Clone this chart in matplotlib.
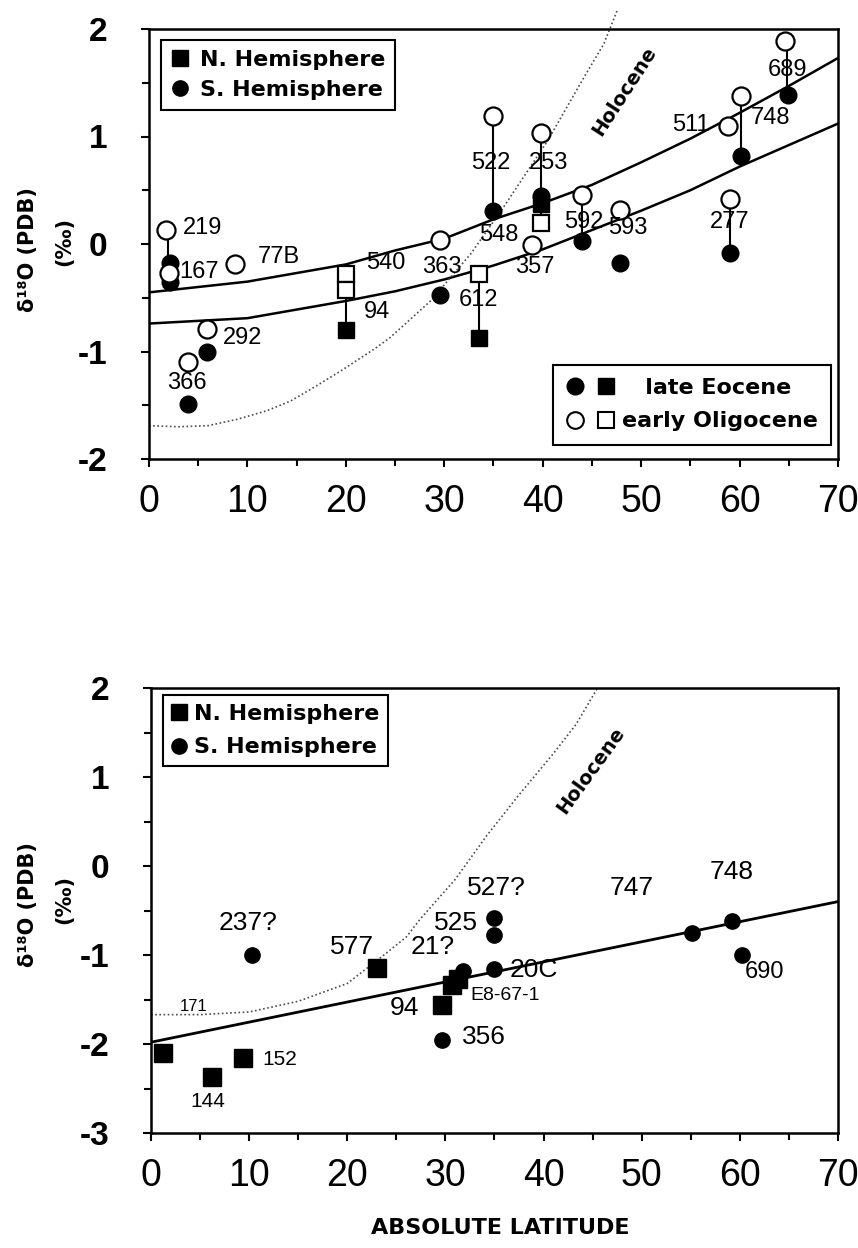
import matplotlib
matplotlib.use("Agg")
import matplotlib.pyplot as plt
from matplotlib.lines import Line2D
from matplotlib.legend_handler import HandlerTuple
from matplotlib.ticker import MultipleLocator

plt.rcParams['font.family'] = ['Liberation Sans', 'DejaVu Sans']
plt.rcParams['axes.unicode_minus'] = False

# ---- top panel: late Eocene / early Oligocene ----
# regression curves
fit_x = [0, 10, 20, 25, 30, 35, 40, 45, 50, 55, 60, 65, 70]
fit_upper = [-0.45, -0.35, -0.19, -0.06, 0.05, 0.23, 0.38, 0.55, 0.76, 0.98, 1.22, 1.47, 1.73]
fit_lower = [-0.74, -0.69, -0.53, -0.44, -0.33, -0.2, -0.05, 0.13, 0.31, 0.5, 0.72, 0.92, 1.12]
holo_top_x = [0, 3, 6, 9, 12, 14.4, 17, 19.5, 23, 24.5, 28.6, 32.7, 36, 40.5, 44, 46.2, 47.6]
holo_top_y = [-1.69, -1.7, -1.69, -1.63, -1.55, -1.46, -1.32, -1.18, -0.97, -0.87, -0.53, -0.09, 0.34, 0.96, 1.52, 1.86, 2.18]

# S. hemisphere circles
oli_circ_x = [1.7, 2.0, 8.7, 5.9, 4.0, 29.6, 34.9, 39.8, 38.9, 44.0, 47.9, 58.8, 60.1, 64.6, 59.0]
oli_circ_y = [0.13, -0.27, -0.19, -0.79, -1.1, 0.04, 1.19, 1.03, -0.01, 0.46, 0.32, 1.1, 1.38, 1.89, 0.42]
eoc_circ_x = [2.1, 2.1, 5.9, 4.0, 29.6, 34.9, 39.8, 44.0, 47.9, 60.1, 64.9, 59.0]
eoc_circ_y = [-0.18, -0.35, -1.0, -1.49, -0.47, 0.31, 0.45, 0.03, -0.18, 0.82, 1.39, -0.08]
# N. hemisphere squares
oli_sq_x = [20.0, 20.0, 33.5, 39.8]
oli_sq_y = [-0.28, -0.43, -0.28, 0.2]
eoc_sq_x = [20.0, 33.5, 39.8]
eoc_sq_y = [-0.8, -0.87, 0.37]

# sites joined by a vertical line (x, from, to)
stems = [(1.9, 0.13, -0.35), (20.0, -0.28, -0.8), (33.5, -0.28, -0.87), (34.9, 1.19, 0.31),
         (39.8, 1.03, 0.2), (44.0, 0.46, 0.03), (60.1, 1.38, 0.82), (64.8, 1.89, 1.39),
         (59.0, 0.42, -0.08)]

top_labels = [("219", 3.4, 0.15, 'left'), ("167", 3.1, -0.26, 'left'), ("77B", 11.0, -0.12, 'left'),
              ("292", 7.5, -0.87, 'left'), ("366", 3.9, -1.29, 'center'), ("540", 22.1, -0.18, 'left'),
              ("94", 21.8, -0.63, 'left'), ("522", 34.7, 0.75, 'center'), ("253", 40.6, 0.75, 'center'),
              ("548", 35.5, 0.08, 'center'), ("363", 29.7, -0.21, 'center'), ("612", 33.5, -0.52, 'center'),
              ("357", 39.2, -0.21, 'center'), ("592", 44.2, 0.2, 'center'), ("593", 48.6, 0.15, 'center'),
              ("511", 55.1, 1.11, 'center'), ("748", 63.1, 1.17, 'center'), ("689", 64.9, 1.62, 'center'),
              ("277", 59.0, 0.2, 'center')]

# ---- bottom panel ----
reg_x = [0, 70]
reg_y = [-1.98, -0.4]
holo_bot_x = [0, 5, 10, 15, 20, 23.5, 26, 27.4, 31, 34.2, 37.5, 40.9, 43.3, 45.5]
holo_bot_y = [-1.67, -1.67, -1.64, -1.52, -1.32, -1.02, -0.8, -0.6, -0.15, 0.34, 0.8, 1.25, 1.59, 2.0]

n_sq_x = [1.2, 6.2, 9.4, 23.0, 29.7, 30.7, 31.3]
n_sq_y = [-2.1, -2.37, -2.16, -1.15, -1.56, -1.34, -1.27]
s_circ_x = [10.3, 29.6, 31.8, 35.0, 35.0, 35.0, 55.1, 59.2, 60.2]
s_circ_y = [-1.0, -1.95, -1.18, -1.16, -0.78, -0.58, -0.75, -0.62, -1.0]

bot_labels = [("237?", 9.9, -0.64, 'center', 19), ("577", 20.5, -0.91, 'center', 19),
              ("171", 4.3, -1.58, 'center', 12), ("144", 5.8, -2.65, 'center', 15),
              ("152", 11.3, -2.17, 'left', 15), ("94", 25.8, -1.6, 'center', 19),
              ("E8-67-1", 32.5, -1.45, 'left', 14), ("356", 31.7, -1.92, 'left', 19),
              ("21?", 28.7, -0.91, 'center', 19), ("525", 31.1, -0.64, 'center', 19),
              ("527?", 35.2, -0.25, 'center', 19), ("20C", 36.5, -1.17, 'left', 19),
              ("747", 49.0, -0.25, 'center', 19), ("748", 59.2, -0.07, 'center', 19),
              ("690", 62.5, -1.19, 'center', 17)]


def style_axes(ax, ymin, ymax):
    ax.set_xlim(0, 70)
    ax.set_ylim(ymin, ymax)
    ax.xaxis.set_major_locator(MultipleLocator(10))
    ax.xaxis.set_minor_locator(MultipleLocator(5))
    ax.yaxis.set_major_locator(MultipleLocator(1))
    ax.yaxis.set_minor_locator(MultipleLocator(0.5))
    ax.tick_params(which='both', direction='out', top=False, right=False, width=1.5)
    ax.tick_params(which='major', length=6)
    ax.tick_params(which='minor', length=5)
    ax.tick_params(axis='x', labelsize=27, pad=12)
    ax.tick_params(axis='y', labelsize=24, pad=24)
    for lab in ax.get_yticklabels():
        lab.set_fontweight('bold')
    for sp in ax.spines.values():
        sp.set_linewidth(1.8)


legend_font = {'family': 'DejaVu Sans', 'weight': 'bold', 'size': 16}

fig = plt.figure(figsize=(8.58, 12.48), dpi=100)

# top panel
ax1 = fig.add_axes([149/858, 1-459/1248, 689/858, 430/1248])
style_axes(ax1, -2, 2)
ax1.plot(fit_x, fit_upper, color='black', lw=1.8)
ax1.plot(fit_x, fit_lower, color='black', lw=1.8)
ax1.plot(holo_top_x, holo_top_y, color='0.3', lw=1.2, linestyle=(0, (1, 1.5)), clip_on=False)
for x, y0, y1 in stems:
    ax1.plot([x, x], [y0, y1], color='black', lw=1.5, zorder=2)
ax1.plot(eoc_circ_x, eoc_circ_y, 'o', color='black', ms=12, zorder=3)
ax1.plot(eoc_sq_x, eoc_sq_y, 's', color='black', ms=12, zorder=3)
ax1.plot(oli_circ_x, oli_circ_y, 'o', mfc='white', mec='black', mew=1.6, ms=13, zorder=4)
ax1.plot(oli_sq_x, oli_sq_y, 's', mfc='white', mec='black', mew=1.6, ms=12, zorder=4)
for txt, x, y, ha in top_labels:
    ax1.text(x, y, txt, fontsize=17, ha=ha, va='center', zorder=5)
ax1.text(48.3, 1.42, "Holocene", fontsize=14, fontweight='bold', family='DejaVu Sans',
         rotation=57, ha='center', va='center')

h_n = Line2D([], [], marker='s', color='black', ls='none', ms=12)
h_s = Line2D([], [], marker='o', color='black', ls='none', ms=11)
leg1 = ax1.legend([h_n, h_s], ["N. Hemisphere", "S. Hemisphere"], loc='upper left',
                  bbox_to_anchor=(0.017, 0.975), borderaxespad=0, fancybox=False,
                  edgecolor='black', framealpha=1, handlelength=0.8, handletextpad=0.5,
                  labelspacing=0.45, borderpad=0.45, prop=legend_font)
leg1.get_frame().set_linewidth(1.5)
ax1.add_artist(leg1)

h_ec = Line2D([], [], marker='o', color='black', ls='none', ms=12)
h_es = Line2D([], [], marker='s', color='black', ls='none', ms=11)
h_oc = Line2D([], [], marker='o', mfc='white', mec='black', mew=1.5, ls='none', ms=12)
h_os = Line2D([], [], marker='s', mfc='white', mec='black', mew=1.5, ls='none', ms=11)
leg2 = ax1.legend([(h_ec, h_es), (h_oc, h_os)], ["   late Eocene", "early Oligocene"],
                  handler_map={tuple: HandlerTuple(ndivide=None, pad=0.6)},
                  loc='lower right', bbox_to_anchor=(0.99, 0.033), borderaxespad=0,
                  fancybox=False, edgecolor='black', framealpha=1, handlelength=2.2,
                  handletextpad=0.3, labelspacing=0.6, borderpad=0.6, prop=legend_font)
leg2.get_frame().set_linewidth(1.5)

fig.text(28/858, 1-250/1248, "δ¹⁸O (PDB)", rotation=90, ha='center', va='center',
         fontsize=15, fontweight='bold', family='DejaVu Sans')
fig.text(64/858, 1-242/1248, "(‰)", rotation=90, ha='center', va='center',
         fontsize=15, fontweight='bold', family='DejaVu Sans')

# bottom panel
ax2 = fig.add_axes([151/858, 1-1133/1248, 687/858, 445/1248])
style_axes(ax2, -3, 2)
ax2.plot(reg_x, reg_y, color='black', lw=2)
ax2.plot(holo_bot_x, holo_bot_y, color='0.3', lw=1.2, linestyle=(0, (1, 1.5)))
ax2.plot(n_sq_x, n_sq_y, 's', color='black', ms=13, zorder=3)
ax2.plot(s_circ_x, s_circ_y, 'o', color='black', ms=11, zorder=3)
for txt, x, y, ha, fs in bot_labels:
    ax2.text(x, y, txt, fontsize=fs, ha=ha, va='center', zorder=5)
ax2.text(44.8, 1.07, "Holocene", fontsize=14, fontweight='bold', family='DejaVu Sans',
         rotation=54, ha='center', va='center')

leg3 = ax2.legend([h_n, h_s], ["N. Hemisphere", "S. Hemisphere"], loc='upper left',
                  bbox_to_anchor=(0.017, 0.984), borderaxespad=0, fancybox=False,
                  edgecolor='black', framealpha=1, handlelength=0.7, handletextpad=0.3,
                  labelspacing=0.6, borderpad=0.4, prop=legend_font)
leg3.get_frame().set_linewidth(1.5)

fig.text(28/858, 1-905/1248, "δ¹⁸O (PDB)", rotation=90, ha='center', va='center',
         fontsize=15, fontweight='bold', family='DejaVu Sans')
fig.text(64/858, 1-900/1248, "(‰)", rotation=90, ha='center', va='center',
         fontsize=15, fontweight='bold', family='DejaVu Sans')
fig.text(500/858, 1-1228/1248, "ABSOLUTE LATITUDE", ha='center', va='center',
         fontsize=16, fontweight='bold', family='DejaVu Sans')

plt.savefig("out.png", dpi=100)
